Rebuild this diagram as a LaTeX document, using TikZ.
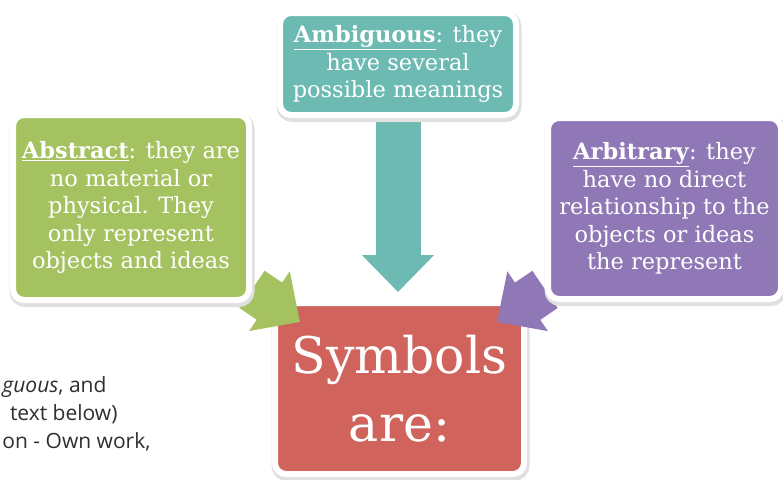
\documentclass[tikz,border=0pt]{standalone}
\usepackage{fontspec}
\setmainfont{DejaVu Serif}
\newfontfamily\capfont{Open Sans}
\usetikzlibrary{arrows.meta}
\definecolor{ambteal}{RGB}{108,186,178}
\definecolor{absgreen}{RGB}{165,194,96}
\definecolor{arbpurple}{RGB}{143,120,181}
\definecolor{symred}{RGB}{208,99,91}
\pgfdeclarelayer{bottom}
\pgfdeclarelayer{middle}
\pgfsetlayers{bottom,middle,main}

\begin{document}
\begin{tikzpicture}[x=1pt,y=-1pt,
    card/.style={draw=white, line width=6pt, rounded corners=11pt, text=white,
        align=center, inner sep=0pt, font=\fontsize{22.5}{27.5}\selectfont,
        preaction={draw=black!12, line width=9pt, transform canvas={shift={(1pt,-2.5pt)}}}},
    bigarrow/.style={line width=45pt, -{Triangle[length=37pt,width=70pt]}},
    credit/.style={font=\capfont\fontsize{21}{28}\selectfont, text=black!82, anchor=base east}]
    \useasboundingbox (0,0) rectangle (783,479);
    \clip (0,0) rectangle (783,479);
    \node[card, fill=ambteal, minimum width=236pt, minimum height=102pt] (ambig) at (398,64)
        {\underline{\textbf{Ambiguous}}: they\\have several\\possible meanings};
    \node[card, fill=absgreen, minimum width=236pt, minimum height=185pt] (abstr) at (131,207.5)
        {\underline{\textbf{Abstract}}: they are\\no material or\\physical. They\\only represent\\objects and ideas};
    \node[card, fill=arbpurple, minimum width=233pt, minimum height=181pt] (arbit) at (664.5,208.5)
        {\underline{\textbf{Arbitrary}}: they\\have no direct\\relationship to the\\objects or ideas\\the represent};
    \begin{pgfonlayer}{bottom}
    \node[card, fill=symred, minimum width=249pt, minimum height=171pt,
        font=\fontsize{50.5}{68}\selectfont] (symb) at (399.5,388.5) {Symbols\\are:};
    \end{pgfonlayer}
    \coordinate (tipA) at (398,292);
    \coordinate (tipB) at (300,322);
    \coordinate (tipC) at (497,322);
    \begin{pgfonlayer}{middle}
    \draw[bigarrow, ambteal] (ambig) -- (tipA);
    \draw[bigarrow, absgreen] (abstr) -- (tipB);
    \draw[bigarrow, arbpurple] (arbit) -- (tipC);
    \end{pgfonlayer}
    \node[credit] (cred1) at (110,392) {\textit{guous}, and};
    \node[credit] (cred2) at (121,420) {text below)};
    \node[credit] (cred3) at (154,448) {on - Own work,};
\end{tikzpicture}
\end{document}
